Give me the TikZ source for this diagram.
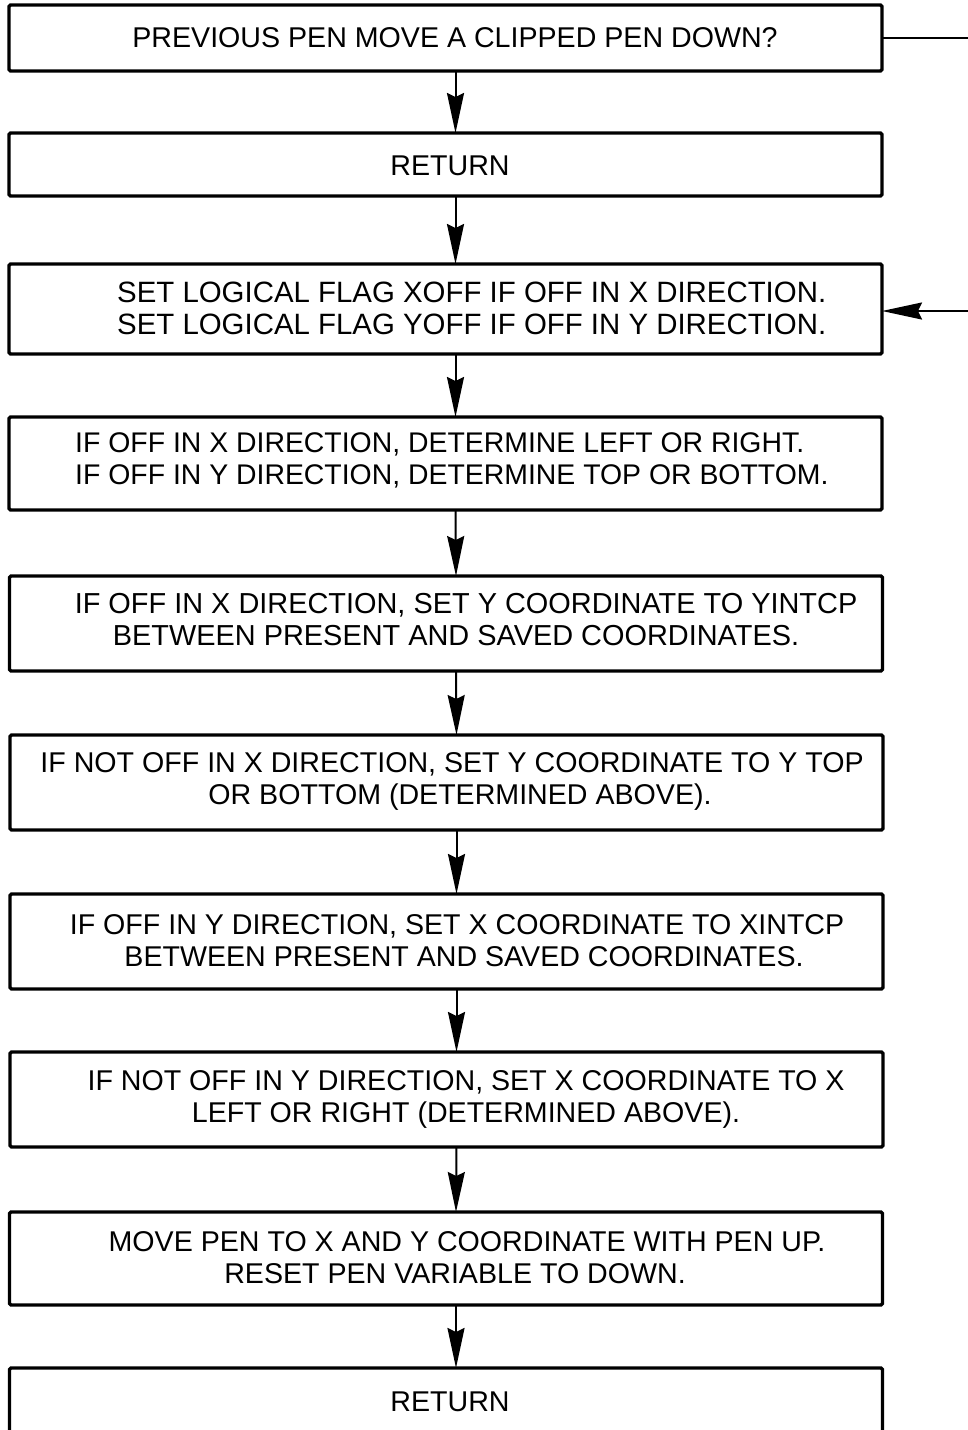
\documentclass[tikz,border=0pt]{standalone}
\usepackage{fontspec}
\setmainfont{Liberation Sans}
\usetikzlibrary{arrows.meta}
\begin{document}
\begin{tikzpicture}[x=1pt,y=-1pt,
  box/.style={draw, line width=3.4pt, rounded corners=1.5pt, minimum width=873pt,
              inner sep=0pt, outer sep=0pt},
  txt/.style={font=\fontsize{#1}{32}\selectfont, inner sep=0pt, align=center},
  txt/.default=28.6,
  txtl/.style={txt=#1, align=left, anchor=west},
  txtl/.default=28.6,
  flow/.style={line width=2pt, -{Stealth[length=40pt,width=17pt,inset=4pt]}},
  link/.style={line width=2pt}]
\useasboundingbox (0,0) rectangle (968,1430);
\clip (0,0) rectangle (968,1430);

% process boxes
\node[box, minimum height=66pt] (b1) at (445.5,38) {};
\node[box, minimum height=63pt] (b2) at (445.5,164.5) {};
\node[box, minimum height=90pt] (b3) at (445.5,309) {};
\node[box, minimum height=93pt] (b4) at (445.5,463.5) {};
\node[box, minimum height=95pt] (b5) at (446,623.5) {};
\node[box, minimum height=95pt] (b6) at (446.5,782.5) {};
\node[box, minimum height=95pt] (b7) at (446.5,941.5) {};
\node[box, minimum height=95pt] (b8) at (446.5,1099.5) {};
\node[box, minimum height=93pt] (b9) at (446,1258.5) {};
\node[box, minimum height=130pt] (b10) at (446,1433) {};

% box texts
\node[txt] (t1) at (455,38) {PREVIOUS PEN MOVE A CLIPPED PEN DOWN?};
\node[txt] (t2) at (450,166) {RETURN};
\node[txtl=29.4] (t3) at (117,308) {SET LOGICAL FLAG XOFF IF OFF IN X DIRECTION.\\SET LOGICAL FLAG YOFF IF OFF IN Y DIRECTION.};
\node[txtl=28.4] (t4) at (75,460) {IF OFF IN X DIRECTION, DETERMINE LEFT OR RIGHT.\\IF OFF IN Y DIRECTION, DETERMINE TOP OR BOTTOM.};
\node[txt=28.9] (t5) at (466,620) {IF OFF IN X DIRECTION, SET Y COORDINATE TO YINTCP\\\hspace*{-20pt}BETWEEN PRESENT AND SAVED COORDINATES.};
\node[txt] (t6) at (452,781) {IF NOT OFF IN X DIRECTION, SET Y COORDINATE TO Y TOP\\\hspace*{16pt}OR BOTTOM (DETERMINED ABOVE).};
\node[txt] (t7) at (457,941) {IF OFF IN Y DIRECTION, SET X COORDINATE TO XINTCP\\\hspace*{14pt}BETWEEN PRESENT AND SAVED COORDINATES.};
\node[txt] (t8) at (466,1099) {IF NOT OFF IN Y DIRECTION, SET X COORDINATE TO X\\LEFT OR RIGHT (DETERMINED ABOVE).};
\node[txt] (t9) at (467,1258) {MOVE PEN TO X AND Y COORDINATE WITH PEN UP.\\\hspace*{-24pt}RESET PEN VARIABLE TO DOWN.};
\node[txt] (t10) at (450,1402) {RETURN};

% vertical flow
\foreach \a/\b in {b1/b2, b2/b3, b3/b4, b4/b5, b5/b6, b6/b7, b7/b8, b8/b9, b9/b10}
  \draw[flow] ([xshift=10pt]\a.south) -- ([xshift=10pt]\b.north);

% off-page connectors on the right
\coordinate (e1) at (968,38);
\coordinate (e3) at (968,311);
\draw[link] (b1.east) -- (e1);
\draw[flow] (e3) -- (b3.east |- e3);
\end{tikzpicture}
\end{document}
